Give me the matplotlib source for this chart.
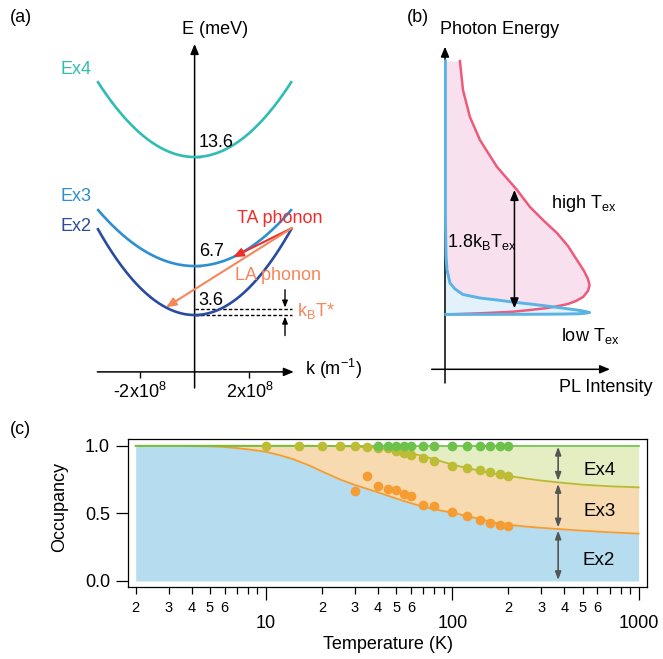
import matplotlib.pyplot as plt
import numpy as np
from matplotlib.ticker import FixedLocator, FixedFormatter

plt.rcParams['font.family'] = ['Liberation Sans', 'DejaVu Sans']
plt.rcParams['font.size'] = 13

W, H = 663, 659

# ---- (a) exciton dispersions ----
band_names = ['Ex2', 'Ex3', 'Ex4']
band_min = [3.6, 6.7, 13.6]      # meV at k = 0
band_edge = [9.1, 10.3, 18.4]    # meV at |k| = k_edge
band_colors = ['#2a4ba3', '#2c8fd0', '#2fbcb3']
k_edge = 3.55                    # 1e8 m^-1
k_ticks = [-2, 2]
k_ticklabels = [r'-2x10$^\mathregular{8}$', r'2x10$^\mathregular{8}$']
kbt_star = 0.37                  # meV
ta_k = 1.4                       # TA phonon lands on Ex3
la_k = -1.05                     # LA phonon lands on Ex2

# ---- (b) PL spectra (intensity, photon energy; arb. units) ----
high_int = [0.103, 0.124, 0.172, 0.241, 0.359, 0.497, 0.586, 0.690, 0.772, 0.848,
            0.910, 0.959, 0.986, 0.997, 0.986, 0.952, 0.903, 0.848, 0.766, 0.690,
            0.586, 0.469, 0.345, 0.241, 0.138, 0.034, 0.007]
high_en = [2.52, 2.23, 1.96, 1.73, 1.46, 1.23, 1.06, 0.91, 0.80, 0.67,
           0.53, 0.42, 0.34, 0.28, 0.22, 0.16, 0.12, 0.09, 0.065, 0.047,
           0.03, 0.013, 0.004, -0.003, -0.008, -0.013, -0.014]
low_int = [0.003, 0.003, 0.003, 0.007, 0.014, 0.034, 0.069, 0.124, 0.241, 0.359,
           0.483, 0.586, 0.690, 0.772, 0.848, 0.910, 0.959, 0.997, 0.959, 0.910,
           0.793, 0.586, 0.310, 0.007]
low_en = [2.52, 1.63, 0.93, 0.58, 0.43, 0.30, 0.24, 0.185, 0.15, 0.13,
          0.107, 0.09, 0.072, 0.057, 0.042, 0.03, 0.018, 0.005, -0.004, -0.008,
          -0.011, -0.013, -0.014, -0.014]
gap_int = 0.479
gap_en = [0.047, 1.23]

# ---- (c) occupancy vs temperature ----
T_meas = [10, 15, 20, 25, 30, 35, 40, 45, 50, 55, 60, 70, 80, 100, 120, 140, 160, 180, 200]
occ_ex23 = [1.0, 1.0, 1.0, 1.0, 1.0, 0.99, 0.985, 0.98, 0.961, 0.948, 0.933, 0.911,
            0.887, 0.85, 0.833, 0.82, 0.803, 0.788, 0.776]
T_ex2 = [30, 35, 40, 45, 50, 55, 60, 70, 80, 100, 120, 140, 160, 180, 200]
occ_ex2 = [0.667, 0.778, 0.702, 0.680, 0.672, 0.645, 0.626, 0.562, 0.557, 0.507,
           0.478, 0.451, 0.426, 0.414, 0.406]
T_all = [40, 45, 50, 55, 60, 70, 80, 100, 120, 140, 160, 180, 200]
occ_all = [1.0] * len(T_all)

T_fit = [2, 3, 4, 5, 6, 7, 8, 10, 12, 14, 17, 20, 25, 30, 40, 50, 60, 70, 80, 100,
         120, 140, 170, 200, 250, 300, 370, 500, 700, 1000]
fit_ex2 = [0.998, 0.998, 0.997, 0.995, 0.99, 0.982, 0.973, 0.955, 0.928, 0.90,
           0.855, 0.81, 0.75, 0.71, 0.655, 0.61, 0.575, 0.55, 0.53, 0.505,
           0.48, 0.458, 0.43, 0.415, 0.402, 0.393, 0.384, 0.372, 0.36, 0.35]
fit_ex23 = [1.0, 1.0, 1.0, 1.0, 1.0, 1.0, 1.0, 1.0, 1.0, 1.0,
            1.0, 0.999, 0.997, 0.994, 0.984, 0.965, 0.945, 0.922, 0.90, 0.86,
            0.835, 0.815, 0.792, 0.776, 0.757, 0.742, 0.729, 0.712, 0.70, 0.692]
fit_all = [1.0] * len(T_fit)
arrow_T = 370
minor_T = [2, 3, 4, 5, 6, 7, 8, 9, 20, 30, 40, 50, 60, 70, 80, 90,
           200, 300, 400, 500, 600, 700, 800, 900]
minor_lab = ['2', '3', '4', '5', '6', '', '', ''] * 3


def px(x, y):
    return x / W, 1 - y / H


fig = plt.figure(figsize=(W / 100, H / 100), dpi=100)

# ================= (a) =================
ax1 = fig.add_axes([90 / W, 1 - 395 / H, 210 / W, 355 / H])
ax1.set_xlim(-3.818, 3.847)
ax1.set_ylim(-1.462, 21.006)
for s in ax1.spines.values():
    s.set_color('none')
ax1.spines['left'].set_position(('data', 0))
ax1.spines['bottom'].set_position(('data', 0))
ax1.set_xticks(k_ticks, k_ticklabels)
ax1.set_yticks(band_min)
ax1.tick_params(axis='x', direction='out', length=4, width=1, pad=3, labelsize=13)
ax1.tick_params(axis='y', direction='in', length=4, width=1, labelleft=False)


def band(k, i):
    return band_min[i] + (band_edge[i] - band_min[i]) * (k / k_edge) ** 2


k = np.linspace(-k_edge, k_edge, 200)
for i in range(3):
    ax1.plot(k, band(k, i), color=band_colors[i], lw=1.9, solid_capstyle='butt', zorder=3)
    ax1.text(0.15, band_min[i] + 0.95, f'{band_min[i]}', ha='left', va='center', fontsize=13, zorder=4)

axis_arrow = dict(arrowstyle='-|>,head_length=0.6,head_width=0.25', mutation_scale=10,
                  lw=1.1, color='k', shrinkA=0, shrinkB=0)
ax1.annotate('', xy=(0, 20.75), xytext=(0, -1.02), arrowprops=axis_arrow, zorder=2)
ax1.annotate('', xy=(3.62, 0), xytext=(-3.55, 0), arrowprops=axis_arrow, zorder=2)

# phonon scattering arrows
ax1.annotate('', xy=(ta_k, band(ta_k, 1)), xytext=(k_edge, band_edge[0]),
             arrowprops=dict(arrowstyle='-|>,head_length=0.6,head_width=0.25', mutation_scale=10,
                             lw=1.5, color='#ee2d2d', shrinkA=0, shrinkB=0), zorder=5)
ax1.annotate('', xy=(la_k, band(la_k, 0)), xytext=(k_edge, band_edge[0]),
             arrowprops=dict(arrowstyle='-|>,head_length=0.6,head_width=0.25', mutation_scale=10,
                             lw=1.5, color='#f5875a', shrinkA=0, shrinkB=0), zorder=5)

# k_B T* marker
for e in [band_min[0], band_min[0] + kbt_star]:
    ax1.plot([0, k_edge], [e, e], color='k', lw=1, dashes=(2.5, 1.5), zorder=2)
small = dict(arrowstyle='-|>,head_length=0.5,head_width=0.2', mutation_scale=8,
             lw=1, color='k', shrinkA=0, shrinkB=0)
ax1.annotate('', xy=(3.3, band_min[0] + kbt_star + 0.1), xytext=(3.3, 5.2), arrowprops=small)
ax1.annotate('', xy=(3.3, band_min[0] - 0.1), xytext=(3.3, 2.3), arrowprops=small)

fig.text(*px(20.8, 17.5), '(a)', ha='center', va='center', fontsize=13)
fig.text(*px(215, 29), 'E (meV)', ha='center', va='center', fontsize=13)
fig.text(*px(305, 369), r'k (m$^\mathregular{-1}$)', ha='left', va='center', fontsize=13)
fig.text(*px(60, 69.7), band_names[2], ha='left', va='center', fontsize=13, color=band_colors[2])
fig.text(*px(60, 196.7), band_names[1], ha='left', va='center', fontsize=13, color=band_colors[1])
fig.text(*px(60, 226.3), band_names[0], ha='left', va='center', fontsize=13, color=band_colors[0])
fig.text(*px(237, 218), 'TA phonon', ha='left', va='center', fontsize=13, color='#ee2d2d')
fig.text(*px(235, 275), 'LA phonon', ha='left', va='center', fontsize=13, color='#f5875a')
fig.text(*px(297, 311), r'k$_\mathregular{B}$T*', ha='left', va='center', fontsize=13, color='#f5875a')

# ================= (b) =================
ax2 = fig.add_axes([425 / W, 1 - 395 / H, 195 / W, 355 / H])
ax2.set_xlim(-0.1379, 1.2069)
ax2.set_ylim(-0.82, 2.73)
ax2.axis('off')
ax2.fill_betweenx(high_en, 0, high_int, color='#f9e0ee', lw=0, zorder=1)
ax2.fill_betweenx(low_en, 0, low_int, color='#e3f1fa', lw=0, zorder=2)
ax2.annotate('', xy=(0, 2.663), xytext=(0, -0.70), arrowprops=axis_arrow, zorder=2.5)
ax2.annotate('', xy=(1.138, -0.563), xytext=(-0.092, -0.563), arrowprops=axis_arrow, zorder=2.5)
ax2.plot(high_int, high_en, color='#ee5a7c', lw=1.8, zorder=3)
ax2.plot(low_int, low_en, color='#5ab3e4', lw=2.1, zorder=4)
ax2.annotate('', xy=(gap_int, gap_en[1]), xytext=(gap_int, gap_en[0]),
             arrowprops=dict(arrowstyle='<|-|>,head_length=0.6,head_width=0.25', mutation_scale=10,
                             lw=1.1, color='k', shrinkA=0, shrinkB=0), zorder=5)

fig.text(*px(418, 18), '(b)', ha='center', va='center', fontsize=13)
fig.text(*px(500, 30), 'Photon Energy', ha='center', va='center', fontsize=13)
fig.text(*px(606, 387), 'PL Intensity', ha='center', va='center', fontsize=13)
fig.text(*px(551, 203), r'high T$_\mathregular{ex}$', ha='left', va='center', fontsize=13)
fig.text(*px(561, 336), r'low T$_\mathregular{ex}$', ha='left', va='center', fontsize=13)
fig.text(*px(447, 242), r'1.8k$_\mathregular{B}$T$_\mathregular{ex}$', ha='left', va='center', fontsize=13)

# ================= (c) =================
ax3 = fig.add_axes([128.3 / W, 1 - 587.3 / H, (646.7 - 128.3) / W, (587.3 - 439) / H])
ax3.set_xscale('log')
ax3.set_xlim(1.825, 1105)
ax3.set_ylim(-0.0466, 1.0495)

ax3.fill_between(T_fit, 0, fit_ex2, color='#b6dcef', lw=0)
ax3.fill_between(T_fit, fit_ex2, fit_ex23, color='#f8dab0', lw=0)
ax3.fill_between(T_fit, fit_ex23, fit_all, color='#e5edc2', lw=0)
ax3.plot(T_fit, fit_ex2, color='#f59d33', lw=1.3)
ax3.plot(T_fit, fit_ex23, color='#b8ba34', lw=1.3)
ax3.plot(T_fit, fit_all, color='#6cc046', lw=1.2)
ax3.plot(T_ex2, occ_ex2, 'o', color='#f59d33', ms=7, mec='none', zorder=5)
ax3.plot(T_meas, occ_ex23, 'o', color='#bcbc35', ms=7, mec='none', zorder=6)
ax3.plot(T_all, occ_all, 'o', color='#6cc24a', ms=7, mec='none', zorder=7)

ia = T_fit.index(arrow_T)
bounds = [fit_all[ia], fit_ex23[ia], fit_ex2[ia], 0.0]
dbl = dict(arrowstyle='<|-|>,head_length=0.6,head_width=0.22', mutation_scale=8,
           lw=1.2, color='#555555', shrinkA=0, shrinkB=0)
for j in range(3):
    top = bounds[j] - (0.008 if j == 0 else 0.012)
    bot = bounds[j + 1] + (0.012 if j < 2 else 0.007)
    ax3.annotate('', xy=(arrow_T, top), xytext=(arrow_T, bot), arrowprops=dbl, zorder=8)
for name, yy in zip(['Ex4', 'Ex3', 'Ex2'], [0.82, 0.512, 0.155]):
    ax3.text(614, yy, name, ha='center', va='center', fontsize=13.5)

ax3.set_yticks([0, 0.5, 1.0], ['0.0', '0.5', '1.0'])
ax3.xaxis.set_major_locator(FixedLocator([10, 100, 1000]))
ax3.xaxis.set_major_formatter(FixedFormatter(['10', '100', '1000']))
ax3.xaxis.set_minor_locator(FixedLocator(minor_T))
ax3.xaxis.set_minor_formatter(FixedFormatter(minor_lab))
ax3.tick_params(axis='y', direction='out', length=8.4, width=0.9, pad=4.8, labelsize=13)
ax3.tick_params(axis='x', which='major', direction='out', length=9.6, width=0.9, pad=10.6, labelsize=13)
ax3.tick_params(axis='x', which='minor', direction='out', length=4.8, width=0.9, pad=5, labelsize=10.5)
for s in ax3.spines.values():
    s.set_linewidth(0.9)
ax3.set_xlabel('Temperature (K)', fontsize=13)
ax3.set_ylabel('Occupancy', fontsize=13)
ax3.xaxis.set_label_coords(0.5, -0.326)
ax3.yaxis.set_label_coords(-0.1157, 0.5415)
fig.text(*px(20, 430), '(c)', ha='center', va='center', fontsize=13)

fig.savefig('out.png', dpi=100)
